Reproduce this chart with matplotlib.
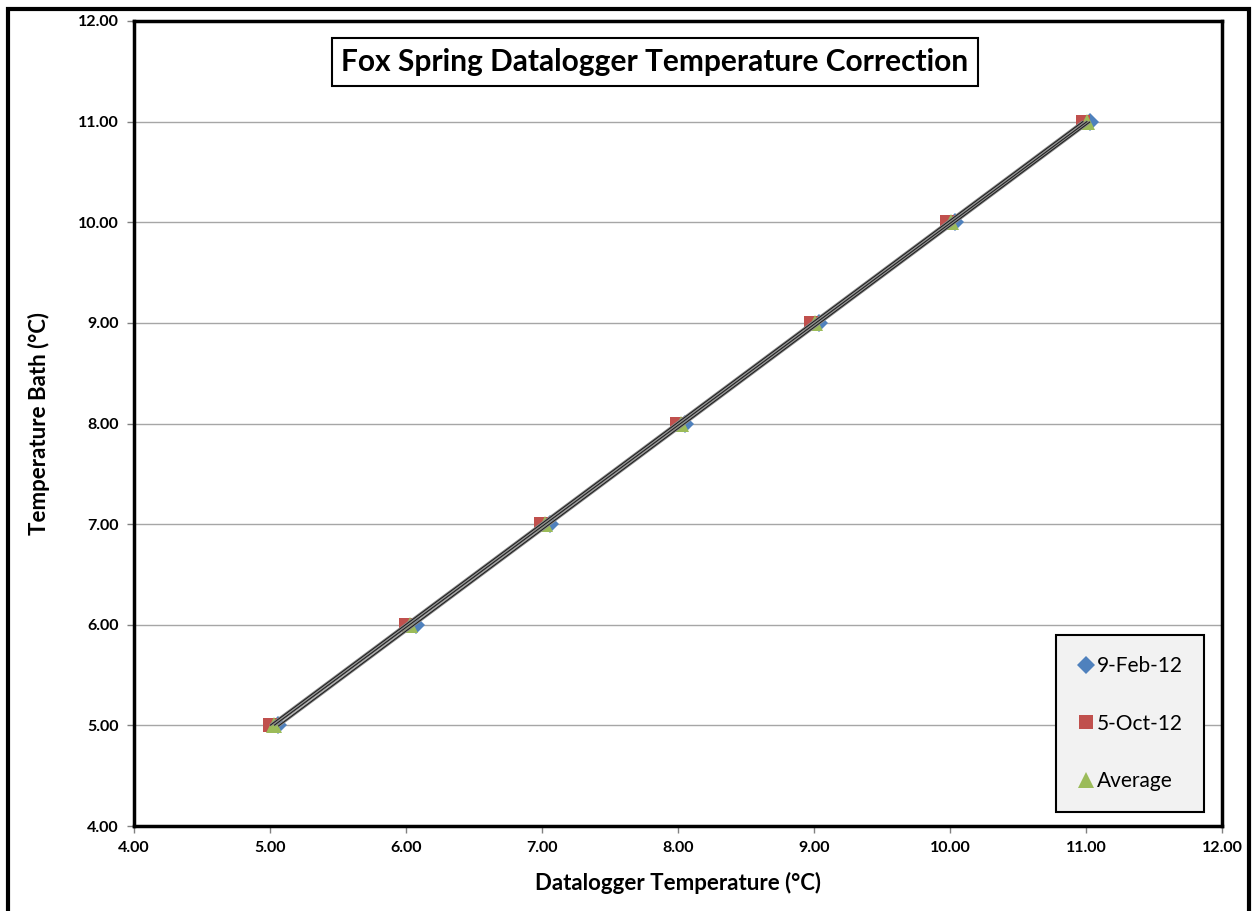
import numpy as np
import matplotlib
matplotlib.use("Agg")
import matplotlib.pyplot as plt
from matplotlib.patches import Rectangle

plt.rcParams['font.family'] = ['Lato', 'DejaVu Sans']

bath = [5.0, 6.0, 7.0, 8.0, 9.0, 10.0, 11.0]
feb_logger = [5.06, 6.07, 7.06, 8.05, 9.04, 10.04, 11.03]
oct_logger = [5.00, 6.00, 6.99, 7.99, 8.98, 9.98, 10.98]
avg_logger = [5.03, 6.03, 7.02, 8.02, 9.01, 10.01, 11.01]

series = [
    ("9-Feb-12", feb_logger, "#4F81BD", "D", 9),
    ("5-Oct-12", oct_logger, "#C0504D", "s", 10.5),
    ("Average", avg_logger, "#9BBB59", "^", 11.5),
]

xticks = [4, 5, 6, 7, 8, 9, 10, 11, 12]
yticks = [4, 5, 6, 7, 8, 9, 10, 11, 12]

fig = plt.figure(figsize=(12.53, 9.11), dpi=100)
ax = fig.add_axes([134/1253, 1-826/911, (1222-134)/1253, (826-21)/911])

for lab, xs, col, mk, ms in series:
    ax.plot(xs, bath, linestyle='none', marker=mk, color=col, markersize=ms,
            markeredgewidth=0, label=lab, zorder=3)

for lab, xs, col, mk, ms in series:
    xs_arr = np.array(xs)
    k, b = np.polyfit(xs_arr, bath, 1)
    xl = np.array([xs_arr.min(), xs_arr.max()])
    ax.plot(xl, k*xl + b, color='#8C8C8C', lw=2.0, zorder=4, solid_capstyle='butt')
for lab, xs, col, mk, ms in series:
    xs_arr = np.array(xs)
    k, b = np.polyfit(xs_arr, bath, 1)
    xl = np.array([xs_arr.min(), xs_arr.max()])
    ax.plot(xl, k*xl + b, color='#1A1A1A', lw=0.7, zorder=5, solid_capstyle='butt')

ax.set_xlim(4, 12)
ax.set_ylim(4, 12)
ax.set_xticks(xticks)
ax.set_yticks(yticks)
ax.set_xticklabels([f"{v:.2f}" for v in xticks], fontsize=11.5, fontweight='bold')
ax.set_yticklabels([f"{v:.2f}" for v in yticks], fontsize=11.5, fontweight='bold')
ax.tick_params(axis='both', direction='out', length=5, color='#808080', width=1)
ax.tick_params(axis='x', pad=6)
ax.tick_params(axis='y', pad=6)
ax.yaxis.grid(True, color='#A6A6A6', lw=1)
ax.set_axisbelow(True)
for s in ax.spines.values():
    s.set_color('black')
    s.set_linewidth(2.5)

ax.set_xlabel("Datalogger Temperature (°C)", fontsize=16, fontweight='bold', labelpad=12)
ax.set_ylabel("Temperature Bath (°C)", fontsize=16, fontweight='bold', labelpad=20)

ax.text((655-134)/1088, 1 - (62-21)/805, "Fox Spring Datalogger Temperature Correction",
        transform=ax.transAxes, ha='center', va='center', fontsize=21.5, fontweight='bold',
        bbox=dict(boxstyle='square,pad=0.32', fc='white', ec='black', lw=1.5), zorder=6)

leg = ax.legend(loc='lower right', bbox_to_anchor=((1204-134)/1088, (826-812)/805),
                frameon=True, fancybox=False, fontsize=15, labelspacing=1.8,
                handletextpad=0.1, handlelength=0.9, borderpad=1.0, borderaxespad=0)
leg.get_frame().set_facecolor('#F2F2F2')
leg.get_frame().set_edgecolor('black')
leg.get_frame().set_linewidth(1.5)
leg.get_frame().set_alpha(1)

fig.patches.append(Rectangle((8/1253, -0.01), (1249-8)/1253, 1 - 9/911 + 0.01,
                             transform=fig.transFigure, fill=False, ec='black', lw=3))

fig.savefig("out.png", dpi=100)
